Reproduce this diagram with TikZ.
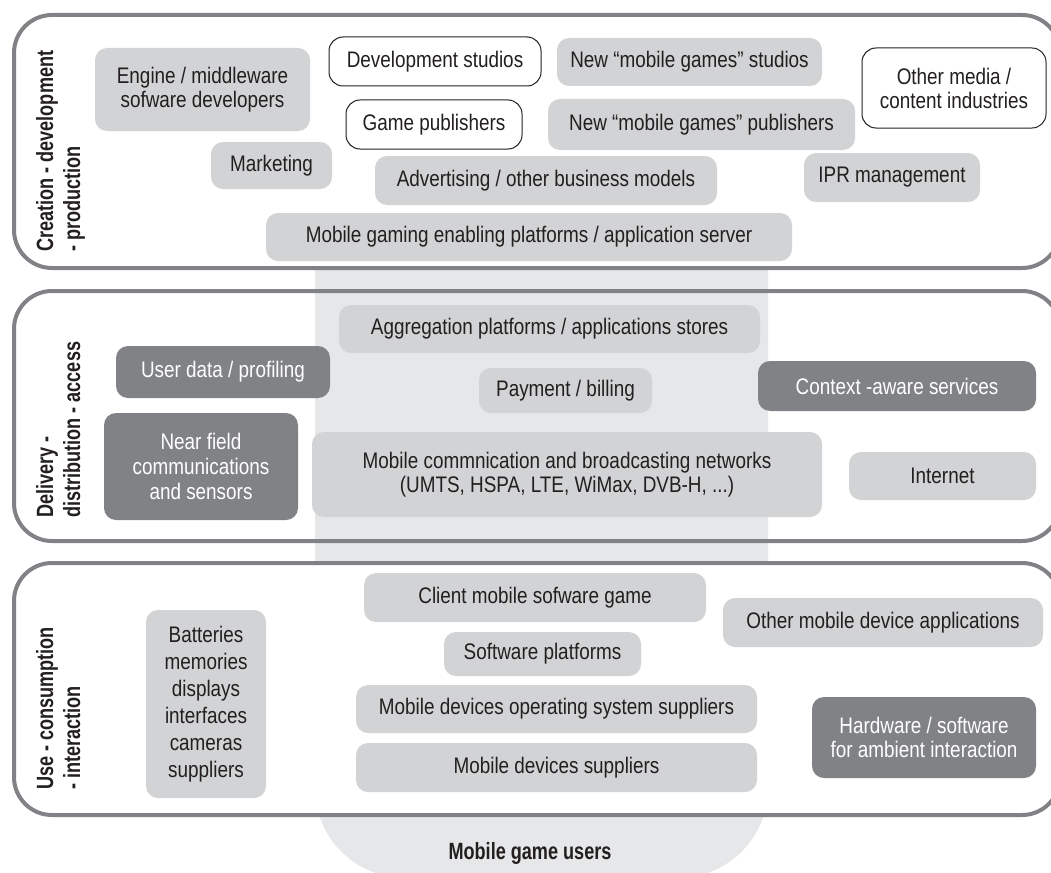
\documentclass[tikz,border=0pt]{standalone}
\usepackage{fontspec}
\setmainfont{Liberation Sans}[FakeStretch=0.84]
\newfontfamily\labfont{Liberation Sans}[FakeStretch=0.77]
\definecolor{bandc}{HTML}{808285}
\definecolor{colc}{HTML}{E6E7E8}
\definecolor{lightc}{HTML}{D1D3D4}
\definecolor{darkc}{HTML}{808285}
\definecolor{txtc}{HTML}{231F20}
\tikzset{
  box/.style={rectangle, rounded corners=12pt, inner sep=0pt, align=center,
    font=\fontsize{22.5}{24}\selectfont, text=txtc},
  lbox/.style={box, fill=lightc},
  dbox/.style={box, fill=darkc, text=white},
  wbox/.style={box, fill=white, draw=txtc, line width=1pt, rounded corners=14pt},
  band/.style={draw=bandc, line width=4pt, rounded corners=38pt},
  bandlab/.style={rotate=90, anchor=north west, align=left, inner sep=0pt,
    font=\labfont\bfseries\fontsize{23.5}{27}\selectfont, text=txtc},
  sz/.style 2 args={minimum width=#1pt, minimum height=#2pt},
}
\begin{document}
\begin{tikzpicture}[x=1pt, y=-1pt]
\useasboundingbox (0,0) rectangle (1051,872);
\clip (0,0) rectangle (1051,872);
% central column
\fill[colc, rounded corners=90pt] (315,100) rectangle (768,878);
% bands
\draw[band, fill=white] (14,15) rectangle (1060,268);
\draw[band, fill=white] (14,563) rectangle (1060,815);
\draw[band] (14,291) rectangle (1060,541);
% band labels
\node[bandlab] (l1) at (36,252) {Creation - development\\- production};
\node[bandlab] (l2) at (36,518) {Delivery -\\distribution - access};
\node[bandlab] (l3) at (36,790) {Use - consumption\\- interaction};
% band 1
\node[lbox, sz={215}{83}] (eng) at (202.5,89.5) {Engine / middleware\\sofware developers};
\node[wbox, sz={212}{49}] (dev) at (435,61.5) {Development studios};
\node[lbox, sz={265}{48}] (nms) at (689.5,62) {New “mobile games” studios};
\node[wbox, sz={184}{80}] (oth) at (954,88) {Other media /\\content industries};
\node[wbox, sz={176}{49}] (gp) at (434,124.5) {Game publishers};
\node[lbox, sz={307}{51}] (nmp) at (701.5,124.5) {New “mobile games” publishers};
\node[lbox, sz={121}{47}] (mkt) at (271.5,165.5) {Marketing};
\node[lbox, sz={342}{49}] (adv) at (546,180.5) {Advertising / other business models};
\node[lbox, sz={176}{49}] (ipr) at (892,177.5) {IPR management};
\node[lbox, sz={526}{48}] (mge) at (529,237) {Mobile gaming enabling platforms / application server};
% band 2
\node[lbox, sz={421}{48}] (agg) at (549.5,329) {Aggregation platforms / applications stores};
\node[dbox, sz={214}{52}] (usr) at (223,372) {User data / profiling};
\node[lbox, sz={173}{45}] (pay) at (565.5,390.5) {Payment / billing};
\node[dbox, sz={278}{50}] (ctx) at (897,386) {Context -aware services};
\node[dbox, sz={194}{107}, font=\fontsize{22.5}{25}\selectfont] (nfc) at (201,466.5) {Near field\\communications\\and sensors};
\node[lbox, sz={510}{85}] (net) at (567,474.5) {Mobile commnication and broadcasting networks\\(UMTS, HSPA, LTE, WiMax, DVB-H, ...)};
\node[lbox, sz={187}{48}] (inet) at (942.5,476) {Internet};
% band 3
\node[lbox, sz={342}{49}] (cli) at (535,597.5) {Client mobile sofware game};
\node[lbox, sz={320}{49}] (omd) at (883,622.5) {Other mobile device applications};
\node[lbox, sz={120}{188}, font=\fontsize{22.5}{27}\selectfont] (bat) at (206,704) {Batteries\\memories\\displays\\interfaces\\cameras\\suppliers};
\node[lbox, sz={197}{44}] (swp) at (542.5,654) {Software platforms};
\node[lbox, sz={401}{48}] (os) at (556.5,709) {Mobile devices operating system suppliers};
\node[dbox, sz={224}{81}] (hw) at (924,737.5) {Hardware / software\\for ambient interaction};
\node[lbox, sz={401}{49}] (mds) at (556.5,767.5) {Mobile devices suppliers};
% users
\node[font=\labfont\bfseries\fontsize{23.5}{24}\selectfont, text=txtc, inner sep=0pt] (users) at (530,853) {Mobile game users};
\end{tikzpicture}
\end{document}
